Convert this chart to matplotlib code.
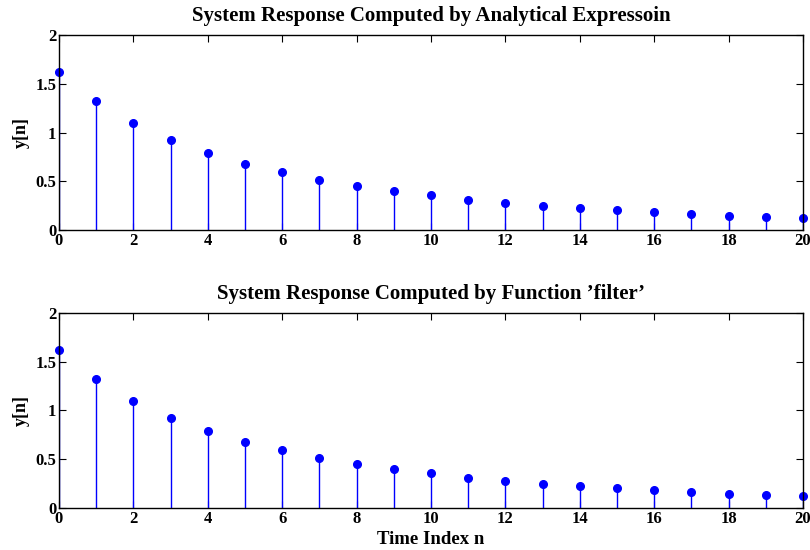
import matplotlib
matplotlib.use("Agg")
import matplotlib.pyplot as plt
import numpy as np

plt.rcParams['font.family'] = ['Liberation Serif', 'DejaVu Serif']
plt.rcParams['font.weight'] = 'bold'

n = np.arange(0, 21)
# values (same in both panels)
y_analytic = [1.62, 1.32, 1.10, 0.92, 0.79, 0.675, 0.59, 0.51, 0.455, 0.40,
              0.355, 0.31, 0.28, 0.25, 0.225, 0.205, 0.18, 0.16, 0.145, 0.13, 0.12]
y_filter = list(y_analytic)

titles = ['System Response Computed by Analytical Expressoin',
          "System Response Computed by Function \u2019filter\u2019"]
xticks = list(range(0, 21, 2))
yticks = [0, 0.5, 1, 1.5, 2]
yticklabels = ['0', '0.5', '1', '1.5', '2']

fig = plt.figure(figsize=(8.1, 5.5), dpi=100)
ax1 = fig.add_axes([0.0728, 0.5818, 0.9185, 0.3545])
ax2 = fig.add_axes([0.0728, 0.0764, 0.9185, 0.3545])

for ax, yv, title in [(ax1, y_analytic, titles[0]), (ax2, y_filter, titles[1])]:
    ml, sl, bl = ax.stem(n, yv, basefmt=' ')
    plt.setp(sl, color='blue', linewidth=1.0)
    plt.setp(ml, color='blue', markersize=5.5)
    ml.set_clip_on(False)
    ax.set_xlim(0, 20)
    ax.set_ylim(0, 2)
    ax.set_xticks(xticks)
    ax.set_yticks(yticks)
    ax.set_yticklabels(yticklabels)
    ax.tick_params(direction='in', top=True, right=True, length=5,
                   labelsize=12, pad=2)
    for lab in ax.get_xticklabels() + ax.get_yticklabels():
        lab.set_fontweight('bold')
    ax.set_title(title, fontsize=15, fontweight='bold', pad=10)
    ax.set_ylabel('y[n]', fontsize=13, fontweight='bold', labelpad=4)
    for sp in ax.spines.values():
        sp.set_linewidth(1.0)

ax2.set_xlabel('Time Index n', fontsize=13.5, fontweight='bold', labelpad=3)

fig.savefig('out.png', dpi=100)
